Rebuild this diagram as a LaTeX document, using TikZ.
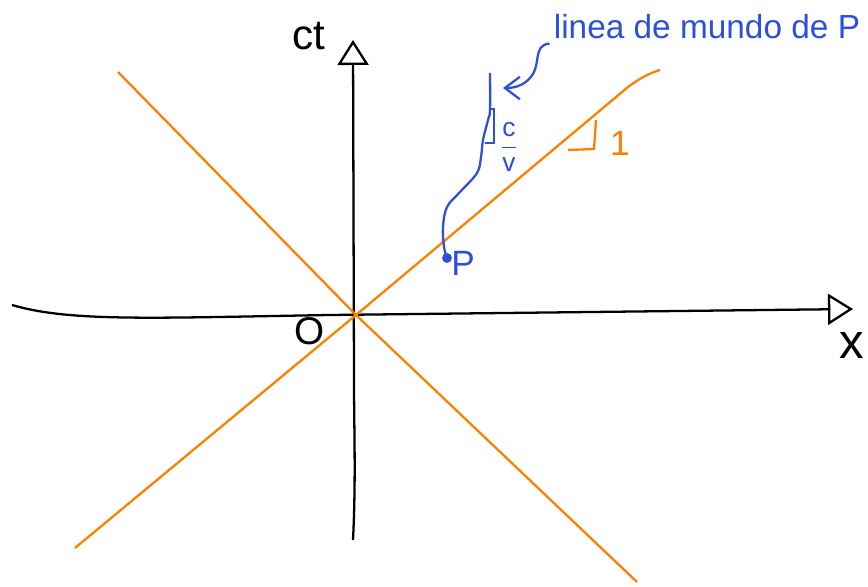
\documentclass[tikz,border=0pt]{standalone}
\usepackage{fontspec}
\setmainfont{Liberation Sans}
\usepackage{amsmath}
\usetikzlibrary{
    arrows.meta,
    positioning
}
\definecolor{coneorange}{RGB}{255,128,0}
\definecolor{penblue}{RGB}{45,80,220}
\tikzstyle{axis} = [
    draw=black,
    line width=1.3pt,
    -{Triangle[open, length=0.5cm, width=0.62cm]}
]
\tikzstyle{cone} = [
    draw=coneorange,
    line width=1.3pt
]
\tikzstyle{worldline} = [
    draw=penblue,
    line width=1.3pt
]
\tikzstyle{pointer} = [
    draw=penblue,
    line width=1.3pt,
    -{Straight Barb[length=0.3cm, width=0.45cm]}
]
\tikzstyle{handtext} = [
    inner sep=0pt,
    font=\fontsize{20}{22}\selectfont
]

\begin{document}
\begin{tikzpicture}[x=0.02cm, y=-0.02cm]
        \useasboundingbox (0,0) rectangle (868,587);

        % Axes
        \coordinate (origin) at (356,315);
        \coordinate (xstart) at (12,305);
        \coordinate (xend) at (853,309);
        \coordinate (tstart) at (353,540);
        \coordinate (tend) at (353,40);
        \draw[axis] (xstart) .. controls (70,322) and (150,318) .. (330,315) -- (xend);
        \draw[axis] (tstart) .. controls (356,480) and (354,430) .. (354,380) -- (tend);
        \node[handtext, font=\fontsize{24}{26}\selectfont] (ctlabel) at (309,36) {ct};
        \node[handtext, font=\fontsize{28}{30}\selectfont] (xlabel) at (852,346) {x};
        \node[handtext, font=\fontsize{22}{24}\selectfont] (olabel) at (310,331) {O};

        % Light cone
        \coordinate (conea) at (75,548);
        \coordinate (coneb) at (660,70);
        \coordinate (conec) at (118,72);
        \coordinate (coned) at (637,582);
        \draw[cone] (conea) -- (origin) -- (628,87) .. controls (640,78) and (650,73) .. (coneb);
        \draw[cone] (conec) -- (origin) -- (coned);
        \draw[cone] (568,150) -- (594,149) -- (596,120);
        \node[handtext, text=coneorange] (one) at (620,143) {1};

        % World line of P
        \coordinate (P) at (447,258);
        \fill[penblue] (P) circle (2.8pt);
        \node[handtext, text=penblue] (plabel) at (463,263) {P};
        \draw[worldline] plot[smooth, tension=0.6] coordinates {(447,258) (444,247) (443,227) (447,207) (460,192) (477,173) (481,157) (483,140) (488,120) (490,110) (490,73)};
        \draw[worldline, line width=0.9pt] (491,109) -- (494,109) -- (494,143) -- (485,143);
        \node[inner sep=0pt, text=penblue, font=\fontsize{15}{17}\selectfont] (cv) at (509,147) {$\dfrac{\textrm{c}}{\textrm{v}}$};

        % Label
        \node[handtext, text=penblue, font=\fontsize{19}{21}\selectfont] (wllabel) at (707,27) {linea de mundo de P};
        \coordinate (wltip) at (503,88);
        \draw[pointer] ([shift={(-4,4)}]wllabel.south west) .. controls (532,45) and (542,65) .. (530,78) .. controls (522,87) and (512,88) .. (wltip);
    \end{tikzpicture}
\end{document}
